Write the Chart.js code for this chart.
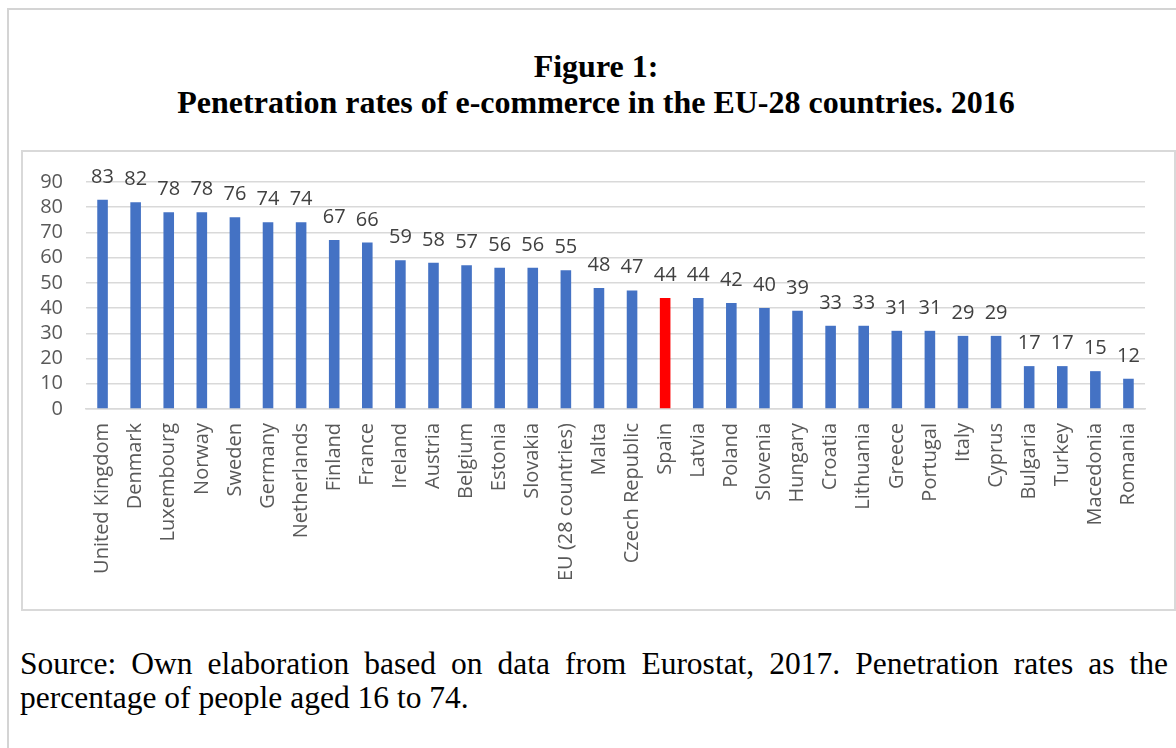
<!DOCTYPE html>
<html>
<head>
<meta charset="utf-8">
<script src="https://cdn.jsdelivr.net/npm/chart.js@4.4.1/dist/chart.umd.min.js"></script>
<style>
  html, body { margin: 0; padding: 0; background: #ffffff; width: 1176px; height: 748px; overflow: hidden; }
  #outer { position: absolute; left: 7px; top: 8px; width: 1200px; height: 800px; border: 2px solid #d4d4d4; box-sizing: border-box; }
  .title { position: absolute; left: 8px; width: 1176px; text-align: center; font-family: "Liberation Serif", "Times New Roman", serif; font-weight: bold; font-size: 32px; line-height: 36px; color: #000; white-space: nowrap; }
  #box { position: absolute; left: 21px; top: 150px; width: 1155px; height: 461px; border: 2px solid #d9d9d9; box-sizing: border-box; }
  #wrap { position: absolute; left: 23px; top: 147px; width: 1150px; height: 461px; }
  .src { position: absolute; left: 20px; width: 1148px; font-family: "Liberation Serif", "Times New Roman", serif; font-size: 31.5px; line-height: 34px; color: #000; white-space: nowrap; }
  #src1 { top: 647px; text-align: justify; text-align-last: justify; white-space: normal; }
  #src2 { top: 681px; text-align: left; }
</style>
</head>
<body>
<div id="outer"></div>
<div class="title" style="top:48px;">Figure 1:</div>
<div class="title" style="top:84px;">Penetration rates of e-commerce in the EU-28 countries. 2016</div>
<div id="box"></div>
<div id="wrap"><canvas id="c" width="1150" height="461"></canvas></div>
<div class="src" id="src1">Source: Own elaboration based on data from Eurostat, 2017. Penetration rates as the</div>
<div class="src" id="src2">percentage of people aged 16 to 74.</div>
<script>
const categories = ["United Kingdom","Denmark","Luxembourg","Norway","Sweden","Germany","Netherlands","Finland","France","Ireland","Austria","Belgium","Estonia","Slovakia","EU (28 countries)","Malta","Czech Republic","Spain","Latvia","Poland","Slovenia","Hungary","Croatia","Lithuania","Greece","Portugal","Italy","Cyprus","Bulgaria","Turkey","Macedonia","Romania"];
const values = [83,82,78,78,76,74,74,67,66,59,58,57,56,56,55,48,47,44,44,42,40,39,33,33,31,31,29,29,17,17,15,12];
const highlighted = ["Spain"];
const yTicks = [0,10,20,30,40,50,60,70,80,90];

const barColors = categories.map(c => highlighted.includes(c) ? "#FF0000" : "#4472C4");

const valueLabels = {
  id: "valueLabels",
  afterDatasetsDraw(chart) {
    const ctx = chart.ctx;
    const meta = chart.getDatasetMeta(0);
    ctx.save();
    ctx.font = '20px "Open Sans"';
    ctx.fillStyle = "#404040";
    ctx.textAlign = "center";
    ctx.textBaseline = "alphabetic";
    meta.data.forEach((bar, i) => {
      ctx.fillText(String(chart.data.datasets[0].data[i]), bar.x, bar.y - 17);
    });
    ctx.restore();
  }
};

new Chart(document.getElementById("c"), {
  type: "bar",
  data: {
    labels: categories,
    datasets: [{
      data: values,
      backgroundColor: barColors,
      borderWidth: 0,
      categoryPercentage: 1.0,
      barPercentage: 0.32
    }]
  },
  options: {
    responsive: false,
    animation: false,
    events: [],
    layout: { padding: { top: 0, right: 28, left: 0, bottom: 0 } },
    plugins: { legend: { display: false }, tooltip: { enabled: false } },
    scales: {
      x: {
        grid: { display: false, drawTicks: false },
        border: { display: true, color: "#d9d9d9", width: 1.5 },
        ticks: {
          autoSkip: false, maxRotation: 90, minRotation: 90, padding: 14,
          color: "#595959", font: { family: "Open Sans", size: 20 }
        },
        afterFit(scale) { scale.height = 199; }
      },
      y: {
        min: 0, max: 90,
        afterBuildTicks(scale) { scale.ticks = yTicks.map(v => ({ value: v })); },
        grid: { color: "#d9d9d9", lineWidth: 1.5, drawTicks: false },
        border: { display: false },
        ticks: { autoSkip: false, stepSize: 10, padding: 23, color: "#595959", font: { family: "Open Sans", size: 20 } },
        afterFit(scale) { scale.width = 63; }
      }
    }
  },
  plugins: [valueLabels]
});
</script>
</body>
</html>
